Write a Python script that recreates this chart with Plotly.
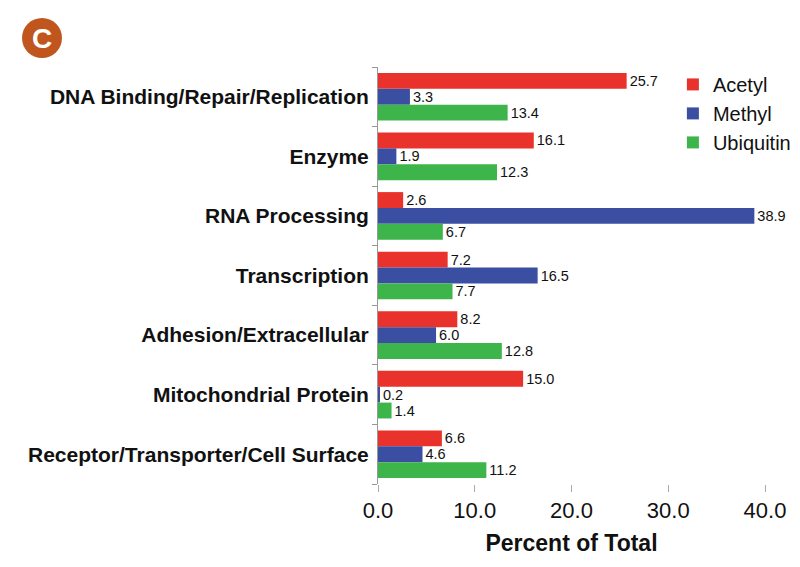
import plotly.graph_objects as go

categories = ["DNA Binding/Repair/Replication", "Enzyme", "RNA Processing", "Transcription",
              "Adhesion/Extracellular", "Mitochondrial Protein", "Receptor/Transporter/Cell Surface"]
acetyl = [25.7, 16.1, 2.6, 7.2, 8.2, 15.0, 6.6]
methyl = [3.3, 1.9, 38.9, 16.5, 6.0, 0.2, 4.6]
ubiquitin = [13.4, 12.3, 6.7, 7.7, 12.8, 1.4, 11.2]
series = [("Acetyl", acetyl, "#E8322B"), ("Methyl", methyl, "#3A4EA2"), ("Ubiquitin", ubiquitin, "#3DB54A")]
x_ticks = [0, 10, 20, 30, 40]

fig = go.Figure()
for name, vals, color in series:
    fig.add_trace(go.Bar(
        y=categories, x=vals, name=name, orientation="h",
        marker=dict(color=color, line=dict(width=0)),
        text=[f"{v:.1f}" for v in vals], textposition="outside",
        textfont=dict(family="Liberation Sans, Arial", size=14.5, color="#111"),
        constraintext="none", cliponaxis=False,
    ))

fig.update_layout(
    width=800, height=567,
    margin=dict(l=378, r=35, t=67, b=83, autoexpand=False),
    paper_bgcolor="white", plot_bgcolor="white",
    barmode="group", bargap=0.2, bargroupgap=0,
    font=dict(family="Liberation Sans, Arial", color="#111"),
    showlegend=True,
    legend=dict(x=0.762, y=1.005, xanchor="left", yanchor="top",
                font=dict(size=20, color="#111"), itemwidth=30,
                tracegroupgap=7, bgcolor="rgba(0,0,0,0)"),
    xaxis=dict(range=[0, 40], tickvals=x_ticks, ticktext=[f"{v:.1f}" for v in x_ticks],
               showgrid=False, zeroline=False, showline=False,
               ticks="outside", ticklen=7, tickcolor="#aaa", tickwidth=1,
               tickfont=dict(size=22, color="#111"),
               title=dict(text="<b>Percent of Total</b>", font=dict(size=23, color="#111"), standoff=12)),
    yaxis=dict(autorange="reversed", showgrid=False, zeroline=False,
               showline=True, linecolor="#999", linewidth=1,
               ticks="outside", tickson="boundaries", ticklen=5, tickcolor="#999",
               tickfont=dict(size=21, color="#111"),
               ticklabelstandoff=4),
)
fig.update_yaxes(tickvals=categories, ticktext=[f"<b>{c}</b>" for c in categories])

# Panel badge
fig.add_shape(type="circle", xref="paper", yref="paper",
              x0=(22 - 378) / 387, x1=(62 - 378) / 387,
              y0=(567 - 83 - 58) / 417, y1=(567 - 83 - 18) / 417,
              fillcolor="#C0561E", line=dict(width=0))
fig.add_annotation(text="<b>C</b>", xref="paper", yref="paper",
                   x=(42 - 378) / 387, y=(567 - 83 - 38) / 417,
                   xanchor="center", yanchor="middle",
                   showarrow=False, font=dict(size=28, color="white", family="Liberation Sans Narrow, Liberation Sans"))

fig.write_html("out.html")
